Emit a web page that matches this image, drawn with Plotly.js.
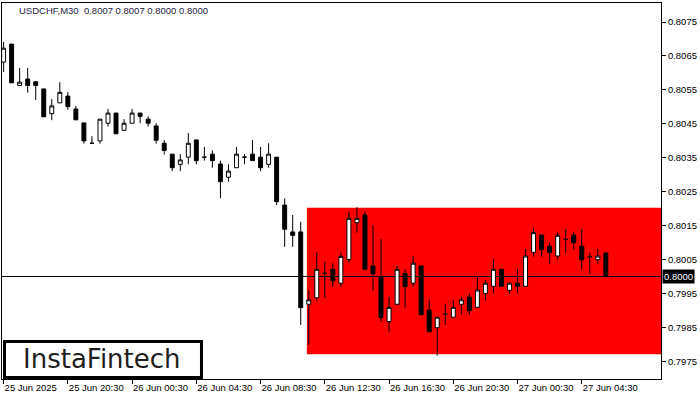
<!DOCTYPE html>
<html>
<head>
<meta charset="utf-8">
<script src="https://cdn.plot.ly/plotly-3.0.1.min.js"></script>
<style>html,body{margin:0;padding:0;background:#fff;}#chart{width:700px;height:400px;}</style>
</head>
<body>
<div id="chart"></div>
<script>
const times = [
"2025-06-25 16:30","2025-06-25 17:00","2025-06-25 17:30","2025-06-25 18:00","2025-06-25 18:30","2025-06-25 19:00","2025-06-25 19:30","2025-06-25 20:00",
"2025-06-25 20:30","2025-06-25 21:00","2025-06-25 21:30","2025-06-25 22:00","2025-06-25 22:30","2025-06-25 23:00","2025-06-25 23:30","2025-06-26 00:00",
"2025-06-26 00:30","2025-06-26 01:00","2025-06-26 01:30","2025-06-26 02:00","2025-06-26 02:30","2025-06-26 03:00","2025-06-26 03:30","2025-06-26 04:00",
"2025-06-26 04:30","2025-06-26 05:00","2025-06-26 05:30","2025-06-26 06:00","2025-06-26 06:30","2025-06-26 07:00","2025-06-26 07:30","2025-06-26 08:00",
"2025-06-26 08:30","2025-06-26 09:00","2025-06-26 09:30","2025-06-26 10:00","2025-06-26 10:30","2025-06-26 11:00","2025-06-26 11:30","2025-06-26 12:00",
"2025-06-26 12:30","2025-06-26 13:00","2025-06-26 13:30","2025-06-26 14:00","2025-06-26 14:30","2025-06-26 15:00","2025-06-26 15:30","2025-06-26 16:00",
"2025-06-26 16:30","2025-06-26 17:00","2025-06-26 17:30","2025-06-26 18:00","2025-06-26 18:30","2025-06-26 19:00","2025-06-26 19:30","2025-06-26 20:00",
"2025-06-26 20:30","2025-06-26 21:00","2025-06-26 21:30","2025-06-26 22:00","2025-06-26 22:30","2025-06-26 23:00","2025-06-26 23:30","2025-06-27 00:00",
"2025-06-27 00:30","2025-06-27 01:00","2025-06-27 01:30","2025-06-27 02:00","2025-06-27 02:30","2025-06-27 03:00","2025-06-27 03:30","2025-06-27 04:00",
"2025-06-27 04:30","2025-06-27 05:00","2025-06-27 05:30","2025-06-27 06:00"
];
const openP = [
0.80632,0.80685,0.80563,0.80582,0.80574,0.80553,0.80480,0.80512,0.80532,0.80494,
0.80453,0.80393,0.80400,0.80452,0.80482,0.80431,0.80452,0.80482,0.80464,0.80444,
0.80393,0.80361,0.80331,0.80352,0.80403,0.80352,0.80361,0.80332,0.80293,0.80321,
0.80352,0.80361,0.80352,0.80331,0.80352,0.80211,0.80132,0.80132,0.79919,0.79938,
0.80010,0.80022,0.79981,0.80051,0.80159,0.80182,0.80032,0.80001,0.79868,0.79919,
0.80010,0.79981,0.80032,0.79902,0.79850,0.79890,0.79881,0.79919,0.79940,0.79910,
0.79951,0.79972,0.80022,0.79960,0.79981,0.79972,0.80072,0.80123,0.80090,0.80061,
0.80110,0.80123,0.80090,0.80059,0.80050,0.80070
];
const highP = [
0.80692,0.80685,0.80615,0.80615,0.80574,0.80553,0.80523,0.80573,0.80544,0.80503,
0.80453,0.80414,0.80464,0.80494,0.80482,0.80464,0.80494,0.80482,0.80472,0.80452,
0.80402,0.80361,0.80361,0.80423,0.80403,0.80382,0.80372,0.80342,0.80331,0.80382,
0.80361,0.80403,0.80382,0.80393,0.80352,0.80231,0.80182,0.80162,0.79961,0.80072,
0.80044,0.80040,0.80072,0.80192,0.80205,0.80192,0.80152,0.80111,0.79941,0.80032,
0.80022,0.80061,0.80032,0.79932,0.79881,0.79920,0.79932,0.79941,0.79951,0.80001,
0.79991,0.80052,0.80022,0.79981,0.80022,0.80082,0.80141,0.80123,0.80101,0.80131,
0.80141,0.80131,0.80141,0.80071,0.80082,0.80070
];
const lowP = [
0.80603,0.80571,0.80563,0.80542,0.80520,0.80471,0.80461,0.80512,0.80492,0.80462,
0.80392,0.80393,0.80392,0.80442,0.80421,0.80431,0.80452,0.80452,0.80442,0.80392,
0.80360,0.80311,0.80311,0.80331,0.80331,0.80342,0.80321,0.80231,0.80280,0.80321,
0.80331,0.80342,0.80311,0.80321,0.80211,0.80088,0.80088,0.79858,0.79799,0.79929,
0.79938,0.79971,0.79971,0.80043,0.80130,0.80022,0.79959,0.79868,0.79838,0.79919,
0.79909,0.79971,0.79888,0.79838,0.79768,0.79858,0.79881,0.79888,0.79888,0.79910,
0.79930,0.79950,0.79972,0.79950,0.79950,0.79972,0.80059,0.80059,0.80038,0.80050,
0.80071,0.80080,0.80022,0.80009,0.80038,0.80000
];
const closeP = [
0.80673,0.80571,0.80573,0.80563,0.80563,0.80471,0.80503,0.80543,0.80501,0.80462,
0.80400,0.80393,0.80464,0.80482,0.80421,0.80452,0.80482,0.80472,0.80452,0.80402,
0.80372,0.80321,0.80344,0.80393,0.80342,0.80352,0.80342,0.80280,0.80311,0.80361,
0.80352,0.80342,0.80321,0.80361,0.80221,0.80140,0.80122,0.79909,0.79932,0.80022,
0.80010,0.79988,0.80060,0.80172,0.80172,0.80022,0.80009,0.79880,0.79910,0.80022,
0.79971,0.80040,0.79888,0.79838,0.79881,0.79890,0.79910,0.79932,0.79900,0.79961,
0.79981,0.80022,0.79972,0.79981,0.79972,0.80061,0.80130,0.80080,0.80071,0.80122,
0.80110,0.80100,0.80050,0.80059,0.80061,0.80000
];
const tickTimes = ["2025-06-25 16:30","2025-06-25 20:30","2025-06-26 00:30","2025-06-26 04:30","2025-06-26 08:30",
"2025-06-26 12:30","2025-06-26 16:30","2025-06-26 20:30","2025-06-27 00:30","2025-06-27 04:30"];
const tickLabels = ["25 Jun 2025","25 Jun 20:30","26 Jun 00:30","26 Jun 04:30","26 Jun 08:30",
"26 Jun 12:30","26 Jun 16:30","26 Jun 20:30","27 Jun 00:30","27 Jun 04:30"];
const priceTicks = [0.8075,0.8065,0.8055,0.8045,0.8035,0.8025,0.8015,0.8005,0.7995,0.7985,0.7975];
const zoneStart = "2025-06-26 11:23";
const zoneTop = 0.80203;
const zoneBottom = 0.79772;
const lastPrice = 0.8000;
const titleText = "USDCHF,M30  0.8007 0.8007 0.8000 0.8000";
const logoText = "InstaFintech";

const xRange = ["2025-06-25 16:24","2025-06-27 09:26"];
const axisFont = {family:"Liberation Sans, Arial, sans-serif", size:9.5, color:"#000"};

const trace = {
  type:"candlestick",
  x: times, open: openP, high: highP, low: lowP, close: closeP,
  increasing:{line:{color:"#000", width:1}, fillcolor:"#fff"},
  decreasing:{line:{color:"#000", width:1}, fillcolor:"#000"},
  whiskerwidth:0,
  hoverinfo:"skip"
};

const layout = {
  width:700, height:400,
  margin:{l:2, r:39, t:3, b:21},
  paper_bgcolor:"#fff", plot_bgcolor:"#fff",
  showlegend:false,
  boxgap:0.3, boxgroupgap:0.3,
  title:{text:titleText, x:19/700, xanchor:"left", xref:"container", y:1-11/400, yanchor:"middle", yref:"container",
         font:{family:"Liberation Sans, Arial, sans-serif", size:9.5, color:"#1a1a40"}},
  xaxis:{type:"date", range:xRange, rangeslider:{visible:false},
         tickmode:"array", tickvals:tickTimes, ticktext:tickLabels,
         ticks:"outside", ticklen:4, tickcolor:"#000", tickwidth:1,
         ticklabelposition:"outside right",
         showgrid:false, zeroline:false, showline:true, linecolor:"#000", linewidth:1, mirror:true,
         tickfont:axisFont, fixedrange:true},
  yaxis:{side:"right", range:[0.79699,0.80806], tickmode:"array", tickvals:priceTicks,
         ticktext:priceTicks.map(v=>v.toFixed(4)),
         ticks:"outside", ticklen:4, tickcolor:"#000", tickwidth:1,
         showgrid:false, zeroline:false, showline:true, linecolor:"#000", linewidth:1, mirror:true,
         tickfont:axisFont, fixedrange:true},
  shapes:[
    {type:"rect", layer:"below", xref:"x", yref:"y", x0:zoneStart, x1:xRange[1], y0:zoneBottom, y1:zoneTop,
     fillcolor:"#ff0000", line:{width:0}},
    {type:"line", layer:"below", xref:"x", yref:"y", ysizemode:"pixel", yanchor:lastPrice,
     x0:xRange[0], x1:xRange[1], y0:0.26, y1:0.26,
     line:{color:"#000", width:1.2}},
    {type:"rect", layer:"above", xref:"paper", yref:"paper", x0:0.0038, x1:0.3027, y0:0.004, y1:0.0997,
     fillcolor:"#fff", line:{color:"#000", width:3}}
  ],
  annotations:[
    {text:lastPrice.toFixed(4), xref:"paper", yref:"y", x:1, y:lastPrice, xanchor:"left", yanchor:"middle",
     xshift:1, showarrow:false, bgcolor:"#000", borderpad:1,
     font:{family:"Liberation Sans, Arial, sans-serif", size:9.5, color:"#fff"}},
    {text:logoText, xref:"paper", yref:"paper", x:0.1517, y:0.0532, xanchor:"center", yanchor:"middle",
     showarrow:false, font:{family:"DejaVu Sans, sans-serif", size:26, color:"#1e1e1e"}}
  ]
};

Plotly.newPlot("chart", [trace], layout, {displayModeBar:false, staticPlot:true});
</script>
</body>
</html>
